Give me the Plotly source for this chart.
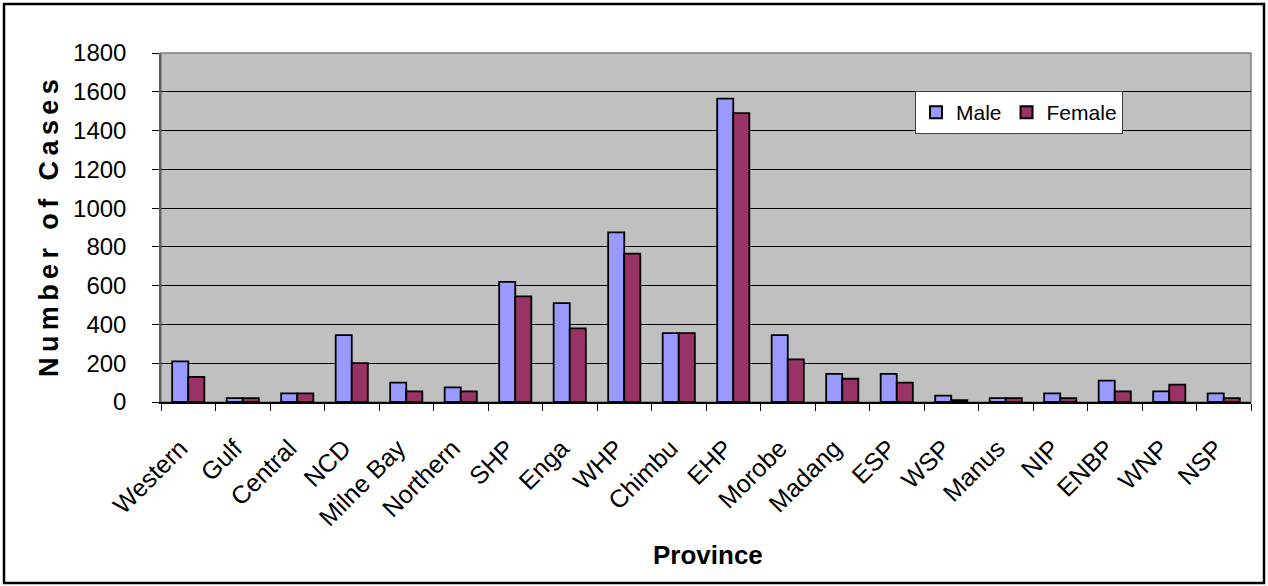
import plotly.graph_objects as go

# Cases by province, split by sex
provinces = ["Western", "Gulf", "Central", "NCD", "Milne Bay", "Northern", "SHP", "Enga",
             "WHP", "Chimbu", "EHP", "Morobe", "Madang", "ESP", "WSP", "Manus", "NIP",
             "ENBP", "WNP", "NSP"]
male = [210, 20, 45, 345, 100, 75, 620, 510, 875, 355, 1565, 345, 145, 145, 33, 20, 45, 110, 55, 45]
female = [130, 20, 45, 200, 55, 55, 545, 380, 765, 355, 1490, 220, 120, 100, 10, 20, 20, 55, 90, 20]
y_ticks = [0, 200, 400, 600, 800, 1000, 1200, 1400, 1600, 1800]

W, H = 1268, 586
L, R, T, B = 161, 17, 53, 184
pw, ph = W - L - R, H - T - B

FONT = "Liberation Sans, Arial, sans-serif"

fig = go.Figure()
fig.add_trace(go.Bar(name="Male", x=provinces, y=male,
                     marker=dict(color="#9999FF", line=dict(color="black", width=1.8))))
fig.add_trace(go.Bar(name="Female", x=provinces, y=female,
                     marker=dict(color="#993366", line=dict(color="black", width=1.8))))


def px_x(p):
    return (p - L) / pw


def px_y(p):
    return (H - B - p) / ph


fig.update_layout(
    width=W, height=H,
    margin=dict(l=L, r=R, t=T, b=B, autoexpand=False),
    paper_bgcolor="white",
    plot_bgcolor="#C0C0C0",
    barmode="group", bargap=0.41, bargroupgap=0,
    font=dict(family=FONT, size=24, color="black"),
    showlegend=True,
    legend=dict(
        orientation="h",
        x=px_x(915), y=px_y(91), xanchor="left", yanchor="top",
        bgcolor="white", bordercolor="#404040", borderwidth=1,
        font=dict(family=FONT, size=21, color="black"),
        itemsizing="constant", itemwidth=30,
    ),
    xaxis=dict(
        type="category",
        showgrid=False,
        showline=True, linecolor="black", linewidth=1.5,
        ticks="outside", ticklen=7, tickcolor="black", tickwidth=1,
        tickson="boundaries",
        tickangle=-45,
        tickfont=dict(family=FONT, size=25, color="black"),
        ticklabelstandoff=20,
        ticklabelshift=-8,
    ),
    yaxis=dict(
        range=[0, 1800],
        tickvals=y_ticks,
        showgrid=True, gridcolor="black", gridwidth=1,
        zeroline=False,
        showline=True, linecolor="#606060", linewidth=1.5,
        ticks="outside", ticklen=7, tickcolor="black", tickwidth=1,
        tickfont=dict(family=FONT, size=24, color="black"),
        ticklabelstandoff=21,
    ),
    annotations=[
        dict(text="N\u2009u\u2009m\u2009b\u2009e\u2009r\u2009 \u2009o\u2009f\u2009 \u2009C\u2009a\u2009s\u2009e\u2009s",
             xref="paper", yref="paper", x=px_x(49), y=px_y(228),
             xanchor="center", yanchor="middle", textangle=-90, showarrow=False,
             font=dict(family=FONT, size=27, color="black", weight="bold")),
        dict(text="Province",
             xref="paper", yref="paper", x=px_x(708), y=px_y(555),
             xanchor="center", yanchor="middle", showarrow=False,
             font=dict(family=FONT, size=26, color="black", weight="bold")),
    ],
    shapes=[
        # plot-area frame
        dict(type="rect", xref="paper", yref="paper", x0=0, x1=1, y0=0, y1=1,
             line=dict(color="#808080", width=1.5), layer="below"),
        # outer chart border
        dict(type="rect", xref="paper", yref="paper",
             x0=px_x(4), x1=px_x(1264), y0=px_y(583), y1=px_y(4),
             line=dict(color="black", width=2.5), layer="above"),
    ],
)

fig.write_html("out.html")
